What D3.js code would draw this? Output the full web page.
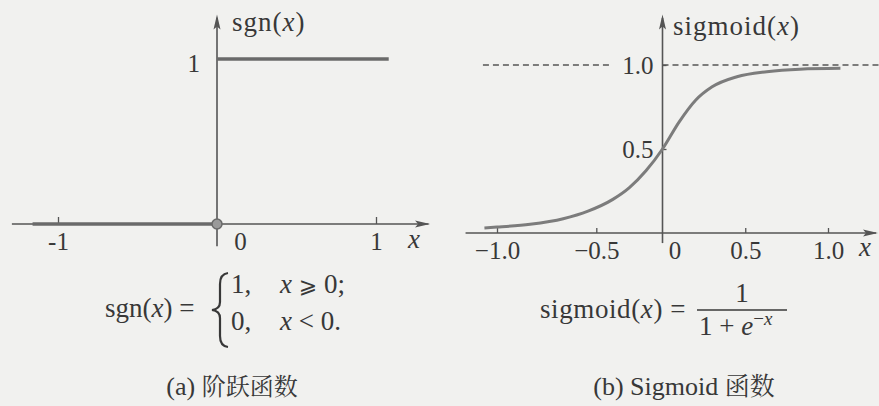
<!DOCTYPE html>
<html>
<head>
<meta charset="utf-8">
<script src="https://cdn.jsdelivr.net/npm/d3@7"></script>
<style>
    html, body { margin: 0; padding: 0; background: #f1f1ef; }
    svg { display: block; }
</style>
</head>
<body>
<div id="chart"></div>
<script>
// (a) 阶跃函数
var sgnTicks = [-1, 0, 1];
var sgnTickText = ['-1', '0', '1'];
var sgnYTicks = [1];
var sgnYTickText = ['1'];
var sgnLowX = [-1.16, 0];   // sgn(x) = 0
var sgnHighX = [0, 1.08];   // sgn(x) = 1
var sgnLevels = [0, 1];

// (b) Sigmoid 函数
var sigX = [-1.076, -1.0, -0.8, -0.6, -0.45, -0.3, -0.2, -0.1, 0, 0.1, 0.2, 0.3, 0.45, 0.63, 0.83, 1.075];
var sigY = [0.03, 0.035, 0.052, 0.085, 0.13, 0.2, 0.27, 0.37, 0.5, 0.66, 0.79, 0.87, 0.93, 0.96, 0.975, 0.98];
var sigTicks = [-1.0, -0.4, 0, 0.5, 1.0];
var sigTickText = ['\u22121.0', '\u22120.5', '0', '0.5', '1.0'];
var sigYTicks = [0.5, 1.0];
var sigYTickText = ['0.5', '1.0'];
var asymptote = 1.0;
var dashLeft = [-1.085, -0.305];
var dashRight = [0, 1.31];

var width = 879;
var height = 406;
var axisColor = '#555';
var textColor = '#383838';
var SERIF = "'Liberation Serif'";
// tspan 也要写内联字体
var IT = 'style="font-family: \'Liberation Serif\'; font-style: italic"';
var RM = 'style="font-family: \'Liberation Serif\'"';
var ZH = 'style="font-family: \'Noto Serif CJK SC\'"';

var svg = d3.select('#chart')
    .append('svg')
    .attr('width', width)
    .attr('height', height);

svg.append('rect')
    .attr('width', width)
    .attr('height', height)
    .attr('fill', '#f1f1ef');

function label(g, x, y, size, html) {
    return g.append('text')
        .attr('x', x).attr('y', y)
        .attr('font-size', size)
        .attr('fill', textColor)
        .style('font-family', SERIF)
        .html(html);
}

// 箭头
function arrow(g, x, y, dir) {
    var len = 15, hw = 3.5, p;
    if (dir === 'right') {
        p = [[x, y], [x - len, y - hw], [x - len + 3, y], [x - len, y + hw]];
    } else {
        p = [[x, y], [x - hw, y + len], [x, y + len - 3], [x + hw, y + len]];
    }
    g.append('path')
        .attr('d', 'M' + p.join('L') + 'Z')
        .attr('fill', axisColor);
}

function styleAxis(g, fs) {
    g.select('.domain').remove();
    g.selectAll('.tick line').attr('stroke', axisColor).attr('stroke-width', 1.3);
    g.selectAll('.tick text')
        .attr('font-size', fs)
        .attr('fill', textColor)
        .style('font-family', SERIF);
}

// ---------- (a) ----------
var xL = d3.scaleLinear().domain([-1, 1]).range([58, 376]);
var yL = d3.scaleLinear().domain([0, 1]).range([224, 59]);
var gL = svg.append('g');

gL.append('line')
    .attr('x1', xL(-1.29)).attr('x2', xL(1.33))
    .attr('y1', yL(0)).attr('y2', yL(0))
    .attr('stroke', axisColor).attr('stroke-width', 1.6);
arrow(gL, xL(1.34), yL(0), 'right');
gL.append('line')
    .attr('x1', xL(0)).attr('x2', xL(0))
    .attr('y1', yL(-0.135)).attr('y2', yL(1.25))
    .attr('stroke', axisColor).attr('stroke-width', 1.6);
arrow(gL, xL(0), yL(1.27), 'up');

var xAxisL = d3.axisBottom(xL)
    .tickValues(sgnTicks)
    .tickFormat(function (d, i) { return sgnTickText[i]; })
    .tickSize(-7)
    .tickPadding(8);
var gxL = gL.append('g')
    .attr('transform', 'translate(0,' + yL(0) + ')')
    .call(xAxisL);
styleAxis(gxL, 25);
gxL.selectAll('.tick').filter(function (d) { return d === 0; })
    .each(function () {
        d3.select(this).select('line').remove();
        d3.select(this).select('text').attr('x', 23);
    });

var yAxisL = d3.axisLeft(yL)
    .tickValues(sgnYTicks)
    .tickFormat(function (d, i) { return sgnYTickText[i]; })
    .tickSize(0)
    .tickPadding(17);
var gyL = gL.append('g')
    .attr('transform', 'translate(' + xL(0) + ',0)')
    .call(yAxisL);
styleAxis(gyL, 25);
gyL.selectAll('.tick text').attr('dy', '0.5em');

var stepLine = d3.line()
    .x(function (d) { return xL(d[0]); })
    .y(function (d) { return yL(d[1]); });
[sgnLowX, sgnHighX].forEach(function (seg, i) {
    gL.append('path')
        .attr('d', stepLine(seg.map(function (x) { return [x, sgnLevels[i]]; })))
        .attr('fill', 'none')
        .attr('stroke', '#6a6a6a')
        .attr('stroke-width', 3.5);
});
gL.append('circle')
    .attr('cx', xL(0)).attr('cy', yL(0)).attr('r', 5)
    .attr('fill', '#9a9a9a')
    .attr('stroke', '#6a6a6a')
    .attr('stroke-width', 1.5);

label(gL, 232, 31, 27, 'sgn(<tspan ' + IT + '>x</tspan>)').attr('letter-spacing', 1);
label(gL, 408, 248, 27, '<tspan ' + IT + '>x</tspan>');

// 公式 (a)
label(gL, 105, 317, 27, 'sgn(<tspan ' + IT + '>x</tspan>) =');
gL.append('path')
    .attr('d', 'M228,273 Q220,274 220,284 L220,302 Q220,309 212,310 Q220,311 220,318 L220,336 Q220,346 228,347')
    .attr('fill', 'none')
    .attr('stroke', textColor)
    .attr('stroke-width', 2.2);
label(gL, 231, 293, 27, '1,');
label(gL, 280, 293, 27, '<tspan ' + IT + '>x</tspan> <tspan style="font-family: \'DejaVu Sans\'" font-size="22">\u2A7E</tspan> 0;');
label(gL, 231, 330, 27, '0,');
label(gL, 280, 330, 27, '<tspan ' + IT + '>x</tspan> &lt; 0.');

label(gL, 232, 395, 26, '(a) <tspan ' + ZH + ' font-size="24">阶跃函数</tspan>')
    .attr('text-anchor', 'middle');

// ---------- (b) ----------
var xR = d3.scaleLinear().domain([-1, 1]).range([497, 828]);
var yR = d3.scaleLinear().domain([0, 1]).range([233, 65]);
var gR = svg.append('g');

// 渐近线
[dashLeft, dashRight].forEach(function (seg) {
    gR.append('line')
        .attr('x1', xR(seg[0])).attr('x2', xR(seg[1]))
        .attr('y1', yR(asymptote)).attr('y2', yR(asymptote))
        .attr('stroke', '#555')
        .attr('stroke-width', 1.4)
        .attr('stroke-dasharray', '6,4');
});

gR.append('line')
    .attr('x1', xR(-1.19)).attr('x2', xR(1.29))
    .attr('y1', yR(0)).attr('y2', yR(0))
    .attr('stroke', axisColor).attr('stroke-width', 1.6);
arrow(gR, xR(1.302), yR(0), 'right');
gR.append('line')
    .attr('x1', xR(0)).attr('x2', xR(0))
    .attr('y1', yR(-0.06)).attr('y2', yR(1.28))
    .attr('stroke', axisColor).attr('stroke-width', 1.6);
arrow(gR, xR(0), yR(1.30), 'up');

var xAxisR = d3.axisBottom(xR)
    .tickValues(sigTicks)
    .tickFormat(function (d, i) { return sigTickText[i]; })
    .tickSize(-5)
    .tickPadding(8);
var gxR = gR.append('g')
    .attr('transform', 'translate(0,' + yR(0) + ')')
    .call(xAxisR);
styleAxis(gxR, 25);
gxR.selectAll('.tick').filter(function (d) { return d === 0; })
    .each(function () {
        d3.select(this).select('line').remove();
        d3.select(this).select('text').attr('x', 12);
    });

var yAxisR = d3.axisLeft(yR)
    .tickValues(sigYTicks)
    .tickFormat(function (d, i) { return sigYTickText[i]; })
    .tickSize(-4)
    .tickPadding(9);
var gyR = gR.append('g')
    .attr('transform', 'translate(' + xR(0) + ',0)')
    .call(yAxisR);
styleAxis(gyR, 25);

var sigLine = d3.line()
    .x(function (d) { return xR(d[0]); })
    .y(function (d) { return yR(d[1]); })
    .curve(d3.curveMonotoneX);
gR.append('path')
    .attr('d', sigLine(sigX.map(function (x, i) { return [x, sigY[i]]; })))
    .attr('fill', 'none')
    .attr('stroke', '#7c7c7c')
    .attr('stroke-width', 3);

label(gR, 673, 35, 27, 'sigmoid(<tspan ' + IT + '>x</tspan>)').attr('letter-spacing', 1);
label(gR, 859, 256, 27, '<tspan ' + IT + '>x</tspan>');

// 公式 (b)
label(gR, 540, 318, 27, 'sigmoid(<tspan ' + IT + '>x</tspan>) =').attr('letter-spacing', 0.6);
label(gR, 742, 302, 27, '1').attr('text-anchor', 'middle');
gR.append('line')
    .attr('x1', 697).attr('x2', 787).attr('y1', 310).attr('y2', 310)
    .attr('stroke', textColor).attr('stroke-width', 1.3);
label(gR, 699, 335, 27, '1 + <tspan ' + IT + '>e</tspan><tspan ' + RM + ' font-size="19" dy="-10">\u2212</tspan><tspan ' + IT + ' font-size="19">x</tspan>');

label(gR, 684, 395, 26, '(b) Sigmoid <tspan ' + ZH + ' font-size="25">函数</tspan>')
    .attr('text-anchor', 'middle');
</script>
</body>
</html>
